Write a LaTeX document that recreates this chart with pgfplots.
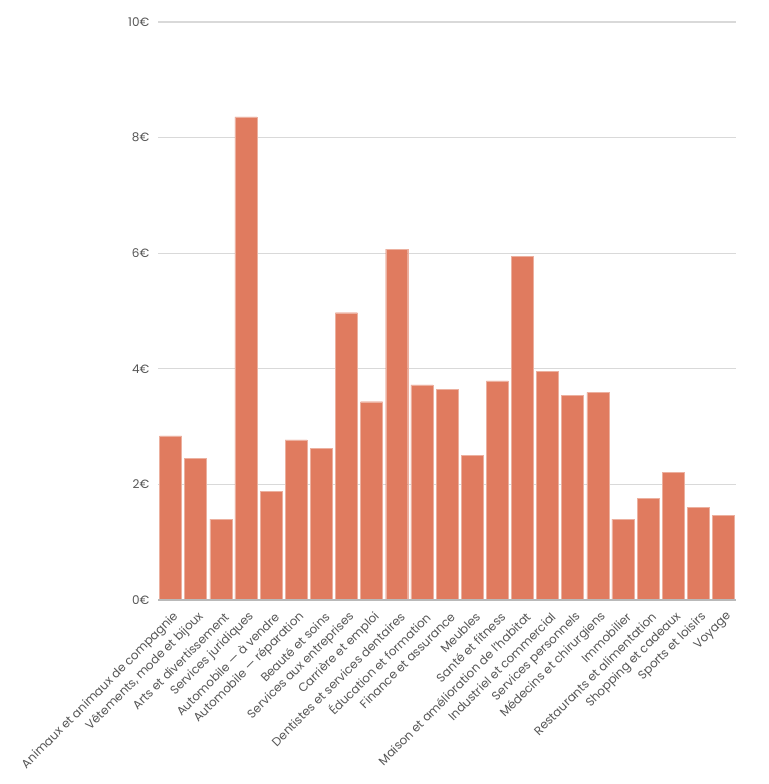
\documentclass[border=0pt]{standalone}
\usepackage{fontspec}
\setmainfont{Poppins}
\usepackage{pgfplots}
\pgfplotsset{compat=1.18}
\definecolor{barc}{RGB}{224,123,95}
\definecolor{txt}{RGB}{85,85,85}
\definecolor{gridc}{RGB}{217,217,217}
\begin{document}
\begin{tikzpicture}[x=1pt,y=1pt]
\path[use as bounding box] (0,0) rectangle (576,588);
\begin{axis}[
  at={(118.5pt,138pt)}, anchor=south west,
  scale only axis, width=433.5pt, height=433.5pt,
  ymin=0, ymax=10, xmin=-0.5, xmax=22.5,
  ytick={0,2,4,6,8,10},
  yticklabel={\pgfmathprintnumber{\tick}€},
  /pgf/number format/assume math mode=true,
  xmajorgrids=false, ymajorgrids=true,
  major grid style={gridc, line width=0.8pt},
  axis lines=left,
  axis line style={draw=none},
  tick style={draw=none},
  major tick length=0pt,
  xtick=data,
  xticklabels={Animaux et animaux de compagnie, {Vêtements, mode et bijoux}, Arts et divertissement, Services juridiques, Automobile — à vendre, Automobile — réparation, Beauté et soins, Services aux entreprises, Carrière et emploi, Dentistes et services dentaires, Éducation et formation, Finance et assurance, Meubles, Santé et fitness, Maison et amélioration de l'habitat, Industriel et commercial, Services personnels, Médecins et chirurgiens, Immobilier, Restaurants et alimentation, Shopping et cadeaux, Sports et loisirs, Voyage},
  xticklabel style={xshift=4.5pt, yshift=-11pt, rotate=45, anchor=east, font=\fontsize{9}{10}\selectfont, text=txt, inner sep=0pt},
  yticklabel style={font=\fontsize{9}{10}\selectfont, text=txt, xshift=-3pt},
  clip=false,
]
\addplot[ybar, bar width=16.5pt, fill=barc, draw=barc!60!white, line width=0.3pt] coordinates {
(0,2.84) (1,2.45) (2,1.40) (3,8.36) (4,1.88) (5,2.77) (6,2.62) (7,4.97) (8,3.43) (9,6.07) (10,3.72) (11,3.65) (12,2.50) (13,3.79) (14,5.95) (15,3.95) (16,3.54) (17,3.59) (18,1.40) (19,1.76) (20,2.21) (21,1.60) (22,1.47)
};
\draw[gray!55, line width=0.8pt] (axis cs:-0.5,0) -- (axis cs:22.5,0);
\end{axis}
\end{tikzpicture}
\end{document}
